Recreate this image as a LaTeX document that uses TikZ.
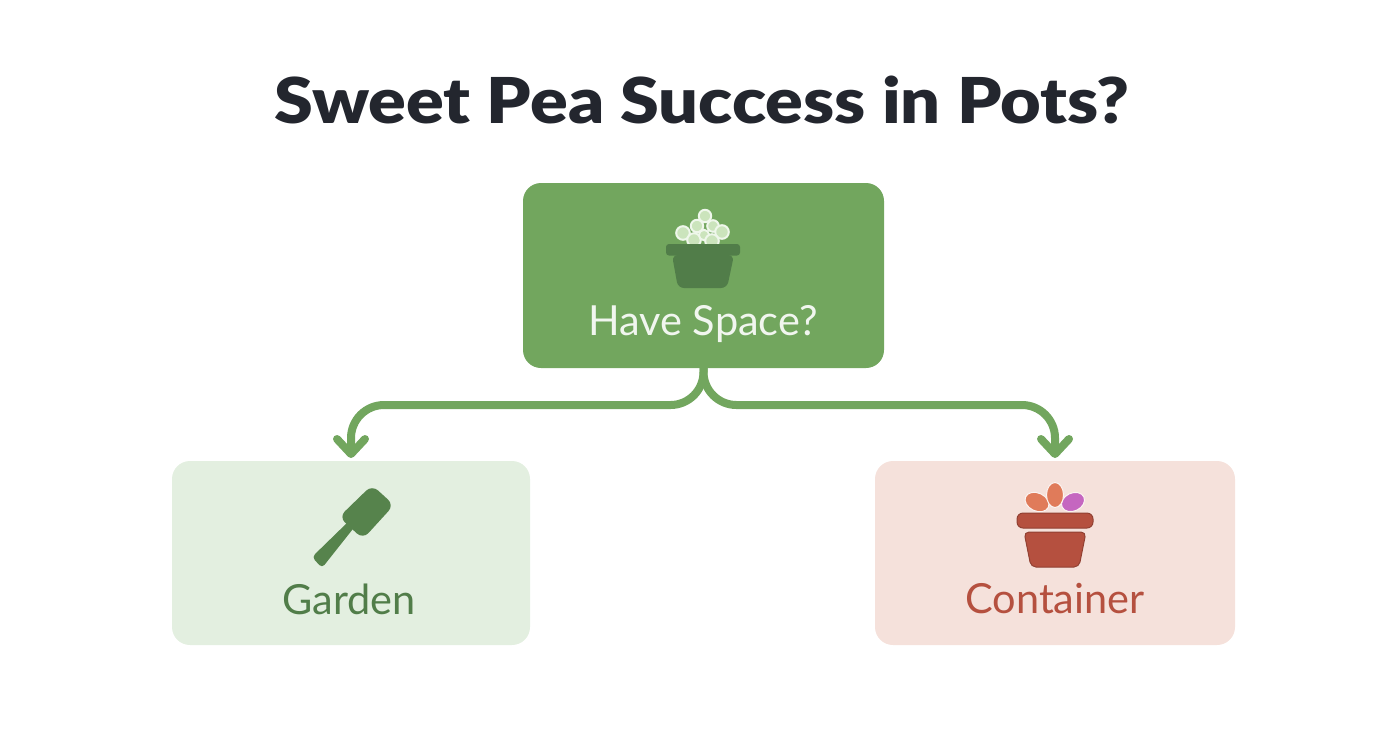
\documentclass[tikz,border=0pt]{standalone}
\usepackage{fontspec}
\usepackage{tikz}
\usetikzlibrary{arrows.meta}
\setmainfont{Lato}[BoldFont={Lato Black}]

\definecolor{leafgreen}{HTML}{72A65E}
\definecolor{darkgreen}{HTML}{517D49}
\definecolor{palegreen}{HTML}{E3EFE0}
\definecolor{palerose}{HTML}{F5E1DB}
\definecolor{brick}{HTML}{B5503F}
\definecolor{titleink}{HTML}{23262E}
\definecolor{peagreen}{HTML}{CBE4BC}
\definecolor{petalorange}{HTML}{E07B5A}
\definecolor{petalviolet}{HTML}{C566C0}

\tikzset{
    box/.style={rounded corners=0.18cm, inner sep=0pt, outer sep=0pt},
    label/.style={inner sep=0pt, font=\fontsize{11.8}{14}\selectfont},
    flow/.style={draw=leafgreen, line width=0.08cm, rounded corners=0.33cm,
        -{Straight Barb[round, length=0.15cm, width=0.28cm]}, shorten >=0.03cm},
    pea/.style={fill=peagreen, draw=white!70!peagreen, line width=0.02cm},
    petal/.style={draw=white!60!palerose, line width=0.01cm}
}

\begin{document}
\begin{tikzpicture}
    \useasboundingbox (0,0) rectangle (13.92,7.52);
    % Title
    \node[inner sep=0pt, xscale=1.108, text=titleink, font=\fontsize{18}{20}\selectfont\bfseries] (title) at (7.02,6.52) {Sweet Pea Success in Pots?};
    % Boxes
    \node[box, fill=leafgreen, minimum width=3.61cm, minimum height=1.85cm] (have) at (7.035,4.765) {};
    \node[box, fill=palegreen, minimum width=3.58cm, minimum height=1.84cm] (garden) at (3.51,1.99) {};
    \node[box, fill=palerose, minimum width=3.60cm, minimum height=1.84cm] (container) at (10.55,1.99) {};
    % Box labels
    \node[label, text=white!90!leafgreen] (havetext) at (7.03,4.28) {Have Space?};
    \node[label, text=darkgreen] (gardentext) at (3.49,1.53) {Garden};
    \node[label, text=brick] (containertext) at (10.55,1.53) {Container};
    % Branches
    \coordinate (bendl) at (3.51,3.47);
    \coordinate (bendr) at (10.55,3.47);
    \draw[flow] (have.south) |- (bendl) -- (garden.north);
    \draw[flow] (have.south) |- (bendr) -- (container.north);
    % Peas in the pot
    \foreach \x/\y/\r in {7.05/5.36/0.062, 6.83/5.19/0.068, 6.97/5.26/0.062, 7.13/5.26/0.058, 7.22/5.20/0.068, 6.94/5.12/0.068, 7.04/5.17/0.052, 7.12/5.11/0.068}
        \draw[pea] (\x,\y) circle (\r);
    % Pot on the top box
    \fill[darkgreen, rounded corners=0.03cm] (6.66,5.08) rectangle (7.40,4.965);
    \fill[darkgreen, rounded corners=0.06cm] (6.72,4.97) -- (7.34,4.97) -- (7.27,4.64) -- (6.78,4.64) -- cycle;
    % Trowel
    \fill[darkgreen!85!leafgreen, rounded corners=0.04cm] (3.60,2.32) -- (3.50,2.32) -- (3.12,1.95) -- (3.22,1.84) -- cycle;
    \fill[darkgreen!85!leafgreen, rounded corners=0.08cm] (3.72,2.67) -- (3.94,2.47) -- (3.63,2.13) -- (3.39,2.35) -- cycle;
    % Petals
    \draw[petal, fill=petalorange, rotate around={-25:(10.37,2.50)}] (10.37,2.50) ellipse (0.125 and 0.09);
    \draw[petal, fill=petalviolet, rotate around={25:(10.73,2.50)}] (10.73,2.50) ellipse (0.12 and 0.09);
    \draw[petal, fill=petalorange] (10.55,2.57) ellipse (0.085 and 0.125);
    % Pot on the right box
    \draw[fill=brick, draw=brick!80!black, line width=0.01cm, rounded corners=0.06cm] (10.17,2.39) rectangle (10.93,2.24);
    \draw[fill=brick, draw=brick!80!black, line width=0.01cm, rounded corners=0.05cm] (10.24,2.20) -- (10.86,2.20) -- (10.79,1.85) -- (10.31,1.85) -- cycle;
\end{tikzpicture}
\end{document}
